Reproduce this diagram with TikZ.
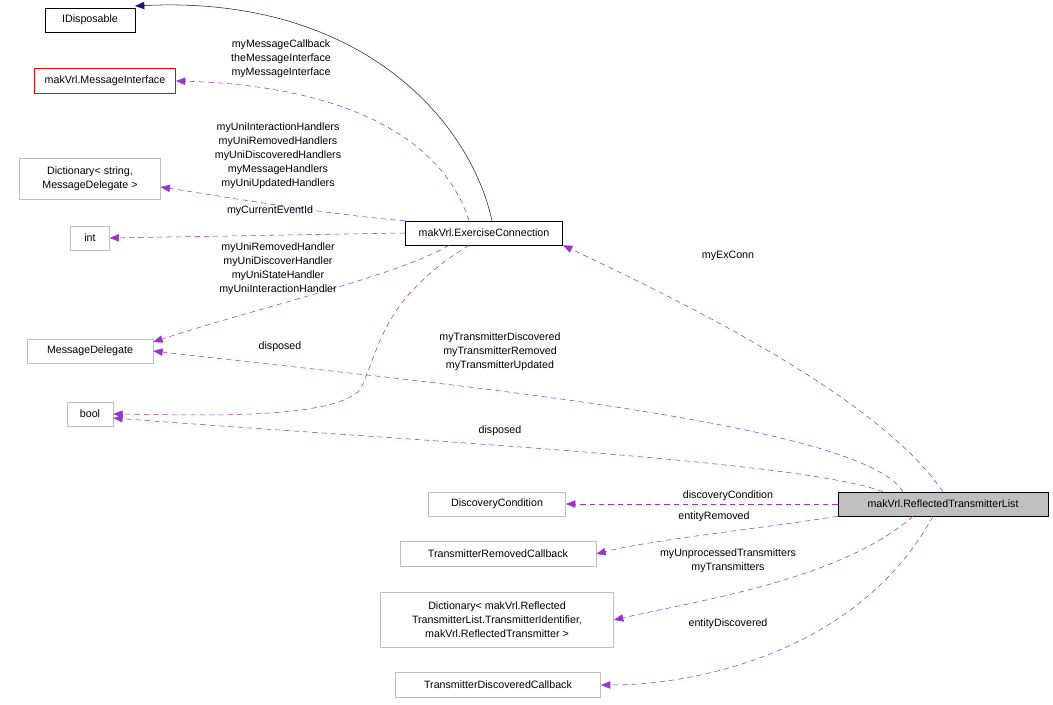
\documentclass[tikz,border=0pt]{standalone}
\usepackage{fontspec}
\setmainfont{Liberation Sans}
\usetikzlibrary{arrows.meta}
\definecolor{pur}{HTML}{9A32CD}
\definecolor{nav}{HTML}{191970}
\definecolor{gb}{HTML}{BFBFBF}
\begin{document}
\begin{tikzpicture}[x=0.75pt,y=-0.75pt,
 box/.style={draw=gb,fill=white,font=\fontsize{8pt}{10.5pt}\selectfont,inner sep=0pt,align=center},
 lab/.style={font=\fontsize{8pt}{10.5pt}\selectfont,align=center,inner sep=0pt},
 dep/.style={draw=pur,dashed,dash pattern=on 4pt off 3pt,-{Triangle[length=7pt,width=5.5pt]},pur},
 inh/.style={draw=nav,-{Triangle[length=7pt,width=5.5pt]},nav}]
\useasboundingbox (0,0) rectangle (1053,705);
\node[box,draw=black,minimum width=67.5pt,minimum height=18pt] (idis) at (90,20) {IDisposable};
\node[box,draw=red,minimum width=106pt,minimum height=18.5pt] (mi) at (105,81) {makVrl.MessageInterface};
\node[box,minimum width=105.5pt,minimum height=31pt] (d1) at (90,179) {Dictionary< string,\\ MessageDelegate >};
\node[box,minimum width=29pt,minimum height=18pt] (int) at (90,238) {int};
\node[box,draw=black,minimum width=118pt,minimum height=18pt] (ec) at (484,233) {makVrl.ExerciseConnection};
\node[box,minimum width=94.5pt,minimum height=18pt] (md) at (90,351) {MessageDelegate};
\node[box,minimum width=34.5pt,minimum height=18pt] (bool) at (90,414) {bool};
\node[box,minimum width=103pt,minimum height=18pt] (dc) at (497,504) {DiscoveryCondition};
\node[box,minimum width=147pt,minimum height=18.5pt] (trc) at (498,554) {TransmitterRemovedCallback};
\node[box,minimum width=175pt,minimum height=41pt] (d2) at (497,620) {Dictionary< makVrl.Reflected\\ TransmitterList.TransmitterIdentifier,\\ makVrl.ReflectedTransmitter >};
\node[box,minimum width=154pt,minimum height=18.5pt] (tdc) at (498,685) {TransmitterDiscoveredCallback};
\node[box,draw=black,fill=gb,minimum width=157.5pt,minimum height=18pt] (rtl) at (943,504) {makVrl.ReflectedTransmitterList};
\coordinate (idisE) at (135,6);
\draw[inh] (ec.north) ++(8,0) .. controls (470,120) and (360,-5) .. (idisE);
\draw[dep] (ec.north) ++(-15,0) .. controls (440,130) and (330,85) .. (mi.east);
\node[lab] at (281,59) {myMessageCallback\\theMessageInterface\\myMessageInterface};
\draw[dep] (ec.north west) .. controls (330,215) and (220,196) .. (d1.east |- 0,187);
\node[lab] at (278,156) {myUniInteractionHandlers\\myUniRemovedHandlers\\myUniDiscoveredHandlers\\myMessageHandlers\\myUniUpdatedHandlers};
\draw[dep] (ec.west) -- (int.east);
\node[lab] at (270,211) {myCurrentEventId};
\draw[dep] (ec.south) ++(-35,0) .. controls (400,275) and (250,310) .. (md.east |- 0,342);
\node[lab] at (278,269) {myUniRemovedHandler\\myUniDiscoverHandler\\myUniStateHandler\\myUniInteractionHandler};
\draw[dep] (ec.south) ++(-15,0) .. controls (380,300) and (380,350) .. (360,390) .. controls (330,420) and (200,415) .. (bool.east);
\node[lab] at (280,347) {disposed};
\draw[dep] (rtl.north) .. controls (880,400) and (700,310) .. (ec.south east);
\node[lab] at (728,256) {myExConn};
\draw[dep] (rtl.north) ++(-40,0) .. controls (860,420) and (400,380) .. (md.east);
\node[lab] at (500,352) {myTransmitterDiscovered\\myTransmitterRemoved\\myTransmitterUpdated};
\draw[dep] (rtl.north) ++(-60,0) .. controls (800,460) and (400,440) .. (bool.east |- 0,418);
\node[lab] at (500,431) {disposed};
\draw[dep] (rtl.west) -- (dc.east);
\node[lab] at (728,496) {discoveryCondition};
\draw[dep] (rtl.south west) .. controls (750,530) and (650,540) .. (trc.east);
\node[lab] at (714,517) {entityRemoved};
\draw[dep] (rtl.south) ++(-30,0) .. controls (840,580) and (700,600) .. (d2.east);
\node[lab] at (728,561) {myUnprocessedTransmitters\\myTransmitters};
\draw[dep] (rtl.south) ++(-10,0) .. controls (860,650) and (700,685) .. (tdc.east);
\node[lab] at (728,624) {entityDiscovered};
\end{tikzpicture}
\end{document}
